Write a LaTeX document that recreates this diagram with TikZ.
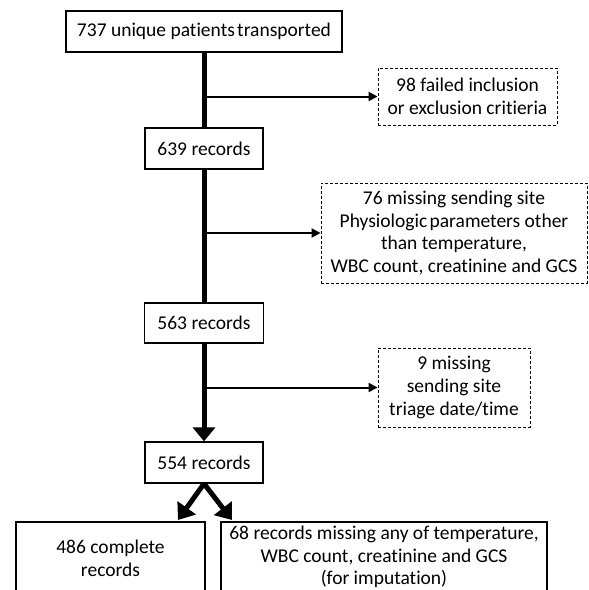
\documentclass[tikz,border=0pt]{standalone}
\usepackage{fontspec}
\setmainfont{Carlito}[Ligatures=NoCommon]
\usetikzlibrary{arrows.meta,calc}
\begin{document}
\begin{tikzpicture}[x=1pt,y=-1pt,
  txt/.style={font=\fontsize{19.5}{22.7}\selectfont, align=center, inner sep=0pt},
  solidbox/.style={txt, draw=black, line width=1.3pt, fill=white},
  dashbox/.style={txt, draw=black, line width=0.9pt, dash pattern=on 3pt off 2pt},
  spine/.style={line width=5pt},
  bigtip/.style={-{Triangle[width=22pt,length=14pt]}},
  thinarrow/.style={line width=2pt, -{Triangle[width=9pt,length=9pt]}}
]
\useasboundingbox (0,0) rectangle (589,590);
\clip (0,0) rectangle (589,590);
\fill[white] (0,0) rectangle (589,590);

\node[solidbox, minimum width=276pt, minimum height=41pt] (top) at (204,31.5) {737 unique patients\hspace{0.12em}transported};
\node[solidbox, minimum width=118pt, minimum height=41pt] (r639) at (204,148.5) {639 records};
\node[solidbox, minimum width=119pt, minimum height=40pt] (r563) at (204,323) {563 records};
\node[solidbox, minimum width=118pt, minimum height=41pt] (r554) at (204,462.5) {554 records};

\node[dashbox, minimum width=179pt, minimum height=57pt] (ex1) at (467.5,96.5) {98 failed inclusion\\or exclusion critieria};
\node[dashbox, minimum width=266pt, minimum height=100pt] (ex2) at (454,233) {76 missing sending site\\Physiologic\hspace{0.12em}parameters other\\than temperature,\\WBC count, creatinine and GCS};
\node[dashbox, minimum width=152pt, minimum height=79pt] (ex3) at (454,387.5) {9 missing\\sending site\\triage date/time};

\node[solidbox, minimum width=189pt, minimum height=72pt] (comp) at (110.5,558) {486 complete\\records};
\node[solidbox, minimum width=326pt, minimum height=70pt] (imp) at (384,557) {68 records missing any of temperature,\\WBC count, creatinine and GCS\\(for imputation)};

\draw[spine] (top.south) -- (r639.north);
\draw[spine] (r639.south) -- (r563.north);
\draw[spine, bigtip] (r563.south) -- (r554.north);

\draw[thinarrow] (top.south |- ex1.west) -- (ex1.west);
\draw[thinarrow] (top.south |- ex2.west) -- (ex2.west);
\draw[thinarrow] (top.south |- ex3.west) -- (ex3.west);

\coordinate (tipL) at (178,520);
\coordinate (tipR) at (232,520);
\draw[spine, -{Triangle[width=22pt,length=15pt]}] (r554.south) -- (tipL);
\draw[spine, -{Triangle[width=22pt,length=15pt]}] (r554.south) -- (tipR);
\end{tikzpicture}
\end{document}
